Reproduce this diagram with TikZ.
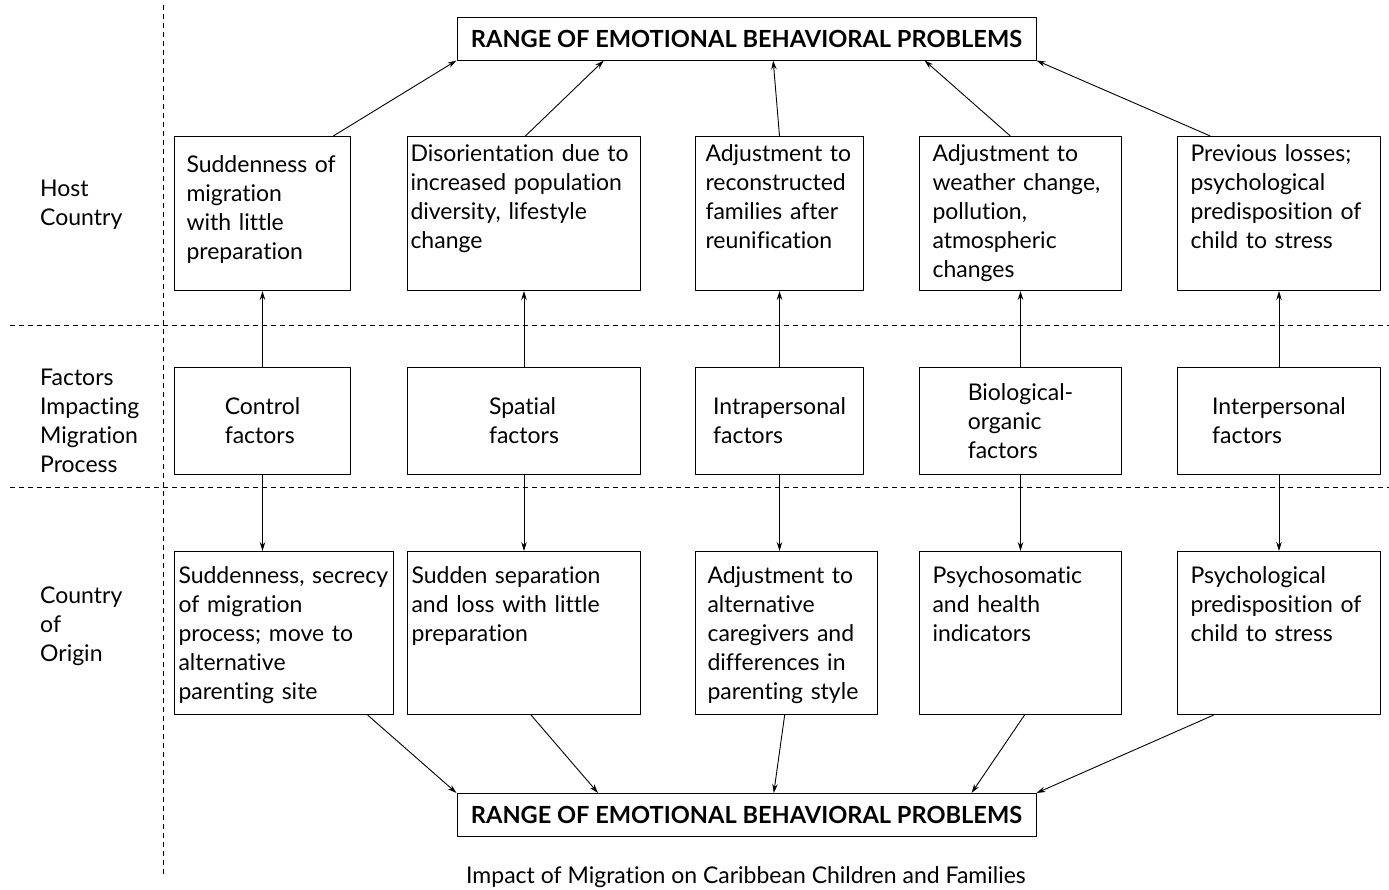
\documentclass[tikz,border=0pt]{standalone}
\usepackage{fontspec}
\setmainfont{Lato}[Ligatures=NoCommon]
\usetikzlibrary{arrows.meta,calc}

\tikzset{
  cell/.style={draw, line width=1pt, anchor=north west, align=left, inner ysep=0pt},
  host/.style={cell, text height=25pt, text depth=129pt},
  origin/.style={cell, text height=32pt, text depth=131pt},
  factor/.style={draw, line width=1pt, align=left, anchor=north west, minimum height=107pt, inner sep=0pt},
  problems/.style={draw, line width=1pt, font=\fontsize{23.6}{29}\selectfont\bfseries, minimum width=579pt, minimum height=43pt, inner sep=0pt},
  side/.style={anchor=base west, align=left, inner sep=0pt, text width=115pt},
  link/.style={-{Stealth[length=9pt,width=5.5pt]}, line width=0.9pt},
  sep/.style={dash pattern=on 5pt off 4pt, line width=0.8pt}
}

\begin{document}
\begin{tikzpicture}[x=1pt, y=-1pt, font=\fontsize{23}{29}\selectfont, line join=round]
	\useasboundingbox (0,0) rectangle (1389,889);
	% dividers
	\draw[sep] (163,5) -- (163,875);
	\draw[sep] (10,325) -- (1389,325);
	\draw[sep] (10,487) -- (1389,487);
	% row labels
	\node[side] (lhost) at (40,196) {Host\\Country};
	\node[side] (lfact) at (40,385) {Factors\\Impacting\\Migration\\Process};
	\node[side] (lorig) at (40,603) {Country\\of\\Origin};
	% outcome boxes
	\node[problems] (probtop) at (746.5,38.5) {RANGE OF EMOTIONAL BEHAVIORAL PROBLEMS};
	\node[problems] (probbot) at (746.5,815) {RANGE OF EMOTIONAL BEHAVIORAL PROBLEMS};
	% host country
	\node[host, inner xsep=12pt, text width=152pt, text height=36pt, text depth=118pt] (h1) at (174,136) {Suddenness of\\migration\\with little\\preparation};
	\node[host, inner xsep=3pt, text width=227pt] (h2) at (407,136) {Disorientation due to\\increased population\\diversity, lifestyle\\change};
	\node[host, inner xsep=10pt, text width=148pt] (h3) at (695,136) {Adjustment to\\reconstructed\\families after\\reunification};
	\node[host, inner xsep=13pt, text width=176pt] (h4) at (919,136) {Adjustment to\\weather change,\\pollution,\\atmospheric\\changes};
	\node[host, inner xsep=13pt, text width=177pt] (h5) at (1177,136) {Previous losses;\\psychological\\predisposition of\\child to stress};
	% factors
	\node[factor, minimum width=176pt] (f1) at (174,367) {Control\\factors};
	\node[factor, minimum width=233pt] (f2) at (407,367) {Spatial\\factors};
	\node[factor, minimum width=168pt] (f3) at (695,367) {Intrapersonal\\factors};
	\node[factor, minimum width=202pt] (f4) at (919,367) {Biological-\\organic\\factors};
	\node[factor, minimum width=203pt] (f5) at (1177,367) {Interpersonal\\factors};
	% country of origin
	\node[origin, inner xsep=4pt, text width=211pt] (o1) at (174,551) {Suddenness, secrecy\\of migration\\process; move to\\alternative\\parenting site};
	\node[origin, inner xsep=4pt, text width=225pt] (o2) at (407,551) {Sudden separation\\and loss with little\\preparation};
	\node[origin, inner xsep=12pt, text width=158pt] (o3) at (695,551) {Adjustment to\\alternative\\caregivers and\\differences in\\parenting style};
	\node[origin, inner xsep=13pt, text width=176pt] (o4) at (919,551) {Psychosomatic\\and health\\indicators};
	\node[origin, inner xsep=13pt, text width=177pt] (o5) at (1177,551) {Psychological\\predisposition of\\child to stress};
	% links
	\foreach \i in {1,...,5}{
		\draw[link] (f\i.north) -- (f\i.north |- h\i.south);
		\draw[link] (f\i.south) -- (f\i.south |- o\i.north);
	}
	\foreach \i/\a/\b in {1/.9/0, 2/.506/.254, 3/.5/.546, 4/.45/.807, 5/.163/1}
		\draw[link] ($(h\i.north west)!\a!(h\i.north east)$) -- ($(probtop.south west)!\b!(probtop.south east)$);
	\foreach \i/\a/\b in {1/.88/0, 2/.53/.244, 3/.49/.547, 4/.52/.888, 5/.18/1}
		\draw[link] ($(o\i.south west)!\a!(o\i.south east)$) -- ($(probbot.north west)!\b!(probbot.north east)$);
	% caption
	\node[anchor=base, inner sep=0pt] (caption) at (746,883) {Impact of Migration on Caribbean Children and Families};
\end{tikzpicture}
\end{document}
